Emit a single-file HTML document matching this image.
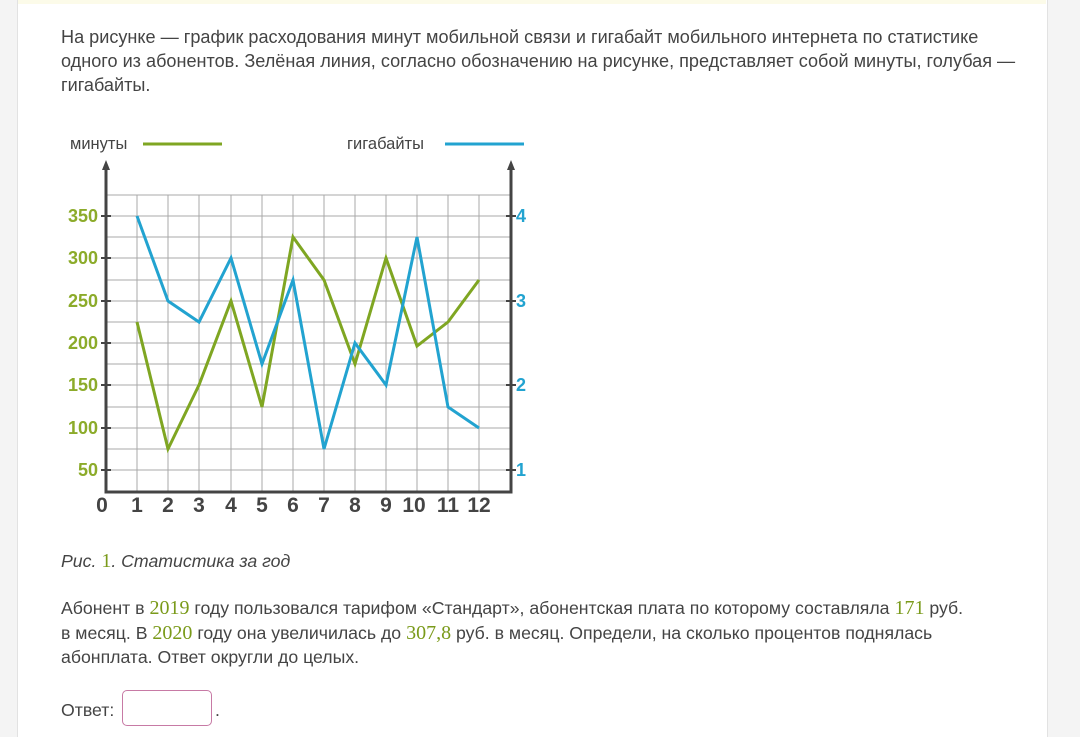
<!DOCTYPE html>
<html><head><meta charset="utf-8"><style>
body{margin:0;width:1080px;height:737px;background:#f4f4f4;font-family:"Liberation Sans","DejaVu Sans",sans-serif;overflow:hidden;position:relative}
.card{position:absolute;left:17px;top:0;width:1029px;height:737px;background:#fff;border-left:1px solid #e2e2e2;border-right:1px solid #e2e2e2}
.t{position:absolute;left:61px;font-size:17.7px;color:#444;white-space:nowrap}
.g{font-family:"Liberation Serif",serif;color:#7a9a1a;font-size:20px}
</style></head><body>
<div class="card"></div>
<div style="position:absolute;left:18px;top:0;width:1028px;height:4px;background:#fcfbe9"></div>
<div class="t" style="top:27px;font-size:18.1px">На рисунке — график расходования минут мобильной связи и гигабайт мобильного интернета по статистике</div>
<div class="t" style="top:51px;font-size:18.1px">одного из абонентов. Зелёная линия, согласно обозначению на рисунке, представляет собой минуты, голубая —</div>
<div class="t" style="top:75px;font-size:18.1px">гигабайты.</div>
<svg style="position:absolute;left:0;top:0" width="1080" height="737">
<g stroke="#a8a8a8" stroke-width="1">
<line x1="106" y1="195" x2="511" y2="195"/><line x1="106" y1="216" x2="511" y2="216"/><line x1="106" y1="237" x2="511" y2="237"/><line x1="106" y1="258" x2="511" y2="258"/><line x1="106" y1="280" x2="511" y2="280"/><line x1="106" y1="301" x2="511" y2="301"/><line x1="106" y1="322" x2="511" y2="322"/><line x1="106" y1="343" x2="511" y2="343"/><line x1="106" y1="364" x2="511" y2="364"/><line x1="106" y1="385" x2="511" y2="385"/><line x1="106" y1="407" x2="511" y2="407"/><line x1="106" y1="428" x2="511" y2="428"/><line x1="106" y1="449" x2="511" y2="449"/><line x1="106" y1="470" x2="511" y2="470"/>
<line x1="137" y1="195" x2="137" y2="492"/><line x1="168" y1="195" x2="168" y2="492"/><line x1="199" y1="195" x2="199" y2="492"/><line x1="231" y1="195" x2="231" y2="492"/><line x1="262" y1="195" x2="262" y2="492"/><line x1="293" y1="195" x2="293" y2="492"/><line x1="324" y1="195" x2="324" y2="492"/><line x1="355" y1="195" x2="355" y2="492"/><line x1="386" y1="195" x2="386" y2="492"/><line x1="417" y1="195" x2="417" y2="492"/><line x1="448" y1="195" x2="448" y2="492"/><line x1="479" y1="195" x2="479" y2="492"/>
</g>
<g stroke="#444" stroke-width="3" fill="#444">
<line x1="106" y1="166" x2="106" y2="492"/><line x1="511" y1="166" x2="511" y2="492"/><line x1="104.5" y1="492" x2="512.5" y2="492"/>
<polygon points="106,160 102,170 110,170" stroke="none"/><polygon points="511,160 507,170 515,170" stroke="none"/>
</g>
<g stroke="#444" stroke-width="2">
<line x1="101" y1="216" x2="111" y2="216"/><line x1="101" y1="258" x2="111" y2="258"/><line x1="101" y1="301" x2="111" y2="301"/><line x1="101" y1="343" x2="111" y2="343"/><line x1="101" y1="385" x2="111" y2="385"/><line x1="101" y1="428" x2="111" y2="428"/><line x1="101" y1="470" x2="111" y2="470"/>
<line x1="506" y1="216" x2="516" y2="216"/><line x1="506" y1="301" x2="516" y2="301"/><line x1="506" y1="385" x2="516" y2="385"/><line x1="506" y1="470" x2="516" y2="470"/>
</g>
<polyline fill="none" stroke="#7fa622" stroke-width="3" points="137,322 168,449 199,385 231,301 262,407 293,237 324,280 355,364 386,258 417,346 448,322 479,280"/>
<polyline fill="none" stroke="#22a3d0" stroke-width="3" points="137,216 168,301 199,322 231,258 262,364 293,280 324,449 355,343 386,385 417,237 448,407 479,428"/>
<g font-weight="bold" font-size="18" fill="#8cab2a" text-anchor="end" font-family="Liberation Sans,sans-serif">
<text x="98" y="222">350</text><text x="98" y="264">300</text><text x="98" y="307">250</text><text x="98" y="349">200</text><text x="98" y="391">150</text><text x="98" y="434">100</text><text x="98" y="476">50</text>
</g>
<g font-weight="bold" font-size="18" fill="#22a3d0" font-family="Liberation Sans,sans-serif">
<text x="516" y="222">4</text><text x="516" y="307">3</text><text x="516" y="391">2</text><text x="516" y="476">1</text>
</g>
<g font-weight="bold" font-size="21" fill="#444" text-anchor="middle" font-family="Liberation Sans,sans-serif">
<text x="102" y="512">0</text><text x="137" y="512">1</text><text x="168" y="512">2</text><text x="199" y="512">3</text><text x="231" y="512">4</text><text x="262" y="512">5</text><text x="293" y="512">6</text><text x="324" y="512">7</text><text x="355" y="512">8</text><text x="386" y="512">9</text><text x="414" y="512">10</text><text x="448" y="512">11</text><text x="479" y="512">12</text>
</g>
<text x="70" y="149" font-size="16.5" fill="#444" font-family="Liberation Sans,sans-serif">минуты</text>
<line x1="143" y1="144" x2="222" y2="144" stroke="#7fa622" stroke-width="3"/>
<text x="347" y="149" font-size="16.5" fill="#444" font-family="Liberation Sans,sans-serif">гигабайты</text>
<line x1="445" y1="144" x2="524" y2="144" stroke="#22a3d0" stroke-width="3"/>
</svg>
<div class="t" style="top:550px;font-style:italic">Рис. <span class="g" style="font-style:normal">1</span>. Статистика за год</div>
<div class="t" style="top:597px">Абонент в <span class="g">2019</span> году пользовался тарифом «Стандарт», абонентская плата по которому составляла <span class="g">171</span> руб.</div>
<div class="t" style="top:622px">в месяц. В <span class="g">2020</span> году она увеличилась до <span class="g">307,8</span> руб. в месяц. Определи, на сколько процентов поднялась</div>
<div class="t" style="top:647px">абонплата. Ответ округли до целых.</div>
<div class="t" style="top:700px">Ответ:</div>
<div style="position:absolute;left:122px;top:690px;width:88px;height:34px;border:1.5px solid #c77aa5;border-radius:5px"></div>
<div class="t" style="left:215px;top:700px">.</div>
</body></html>
